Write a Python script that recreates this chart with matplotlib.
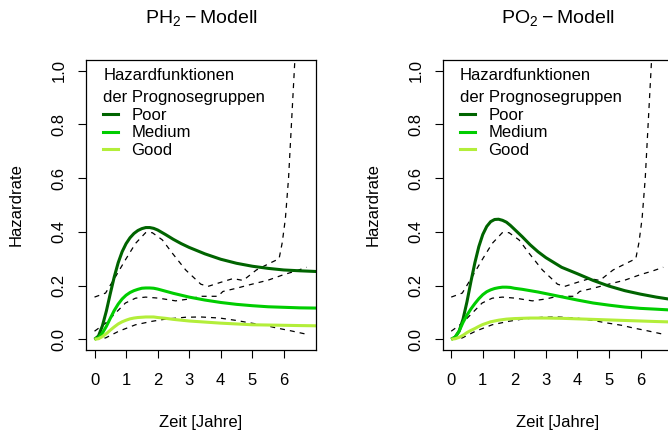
import matplotlib
matplotlib.use("Agg")
import matplotlib.pyplot as plt
from matplotlib.lines import Line2D

plt.rcParams['font.family'] = ['Liberation Sans', 'DejaVu Sans']
plt.rcParams['mathtext.fontset'] = 'custom'
plt.rcParams['mathtext.rm'] = 'Liberation Sans'

# model hazard curves
t_grid = [0, 0.125, 0.25, 0.375, 0.5, 0.625, 0.75, 0.875, 1.0, 1.125, 1.25, 1.375, 1.5,
          1.625, 1.75, 1.875, 2.0, 2.25, 2.5, 2.75, 3.0, 3.5, 4.0, 4.5, 5.0, 5.5, 6.0,
          6.5, 7.1]

ph_poor = [0, 0.012, 0.05, 0.105, 0.17, 0.232, 0.285, 0.326, 0.356, 0.378, 0.394, 0.405,
           0.412, 0.416, 0.416, 0.413, 0.407, 0.39, 0.372, 0.356, 0.342, 0.318, 0.298,
           0.283, 0.272, 0.264, 0.258, 0.255, 0.252]
ph_medium = [0, 0.006, 0.023, 0.048, 0.078, 0.107, 0.131, 0.15, 0.164, 0.174, 0.181,
             0.186, 0.19, 0.191, 0.191, 0.19, 0.187, 0.179, 0.171, 0.164, 0.157, 0.146,
             0.137, 0.13, 0.125, 0.121, 0.119, 0.117, 0.116]
ph_good = [0, 0.002, 0.01, 0.021, 0.034, 0.046, 0.057, 0.065, 0.071, 0.076, 0.079, 0.081,
           0.082, 0.083, 0.083, 0.083, 0.081, 0.078, 0.074, 0.071, 0.068, 0.064, 0.06,
           0.057, 0.054, 0.053, 0.052, 0.051, 0.05]

po_poor = [0, 0.008, 0.03, 0.075, 0.14, 0.215, 0.285, 0.345, 0.39, 0.42, 0.438, 0.446,
           0.447, 0.443, 0.436, 0.424, 0.41, 0.382, 0.352, 0.326, 0.304, 0.268, 0.244,
           0.219, 0.198, 0.181, 0.168, 0.157, 0.146]
po_medium = [0, 0.008, 0.03, 0.063, 0.09, 0.113, 0.133, 0.151, 0.166, 0.177, 0.184, 0.189,
             0.192, 0.194, 0.194, 0.193, 0.19, 0.186, 0.181, 0.176, 0.17, 0.158, 0.146,
             0.135, 0.127, 0.12, 0.115, 0.112, 0.108]
po_good = [0, 0.002, 0.007, 0.015, 0.025, 0.033, 0.04, 0.048, 0.055, 0.06, 0.065, 0.068,
           0.071, 0.073, 0.075, 0.076, 0.077, 0.078, 0.079, 0.079, 0.079, 0.078, 0.076,
           0.074, 0.072, 0.07, 0.068, 0.066, 0.064]

# empirical hazards (dashed), same in both panels
emp_poor_t = [0, 0.35, 0.67, 0.98, 1.30, 1.62, 1.83, 2.15, 2.47, 2.89, 3.37, 3.6, 4.0,
              4.39, 4.71, 5.13, 5.5, 5.85, 5.95, 6.05, 6.15, 6.25, 6.4]
emp_poor = [0.157, 0.172, 0.234, 0.296, 0.357, 0.397, 0.397, 0.37, 0.32, 0.258, 0.205,
            0.197, 0.212, 0.226, 0.219, 0.258, 0.28, 0.30, 0.36, 0.45, 0.60, 0.82, 1.15]
emp_medium_t = [0, 0.35, 0.67, 0.98, 1.30, 1.62, 2.04, 2.57, 3.0, 3.37, 3.91, 4.07, 4.5,
                4.92, 5.5, 5.98, 6.4, 6.72]
emp_medium = [0.03, 0.06, 0.098, 0.135, 0.153, 0.157, 0.153, 0.143, 0.15, 0.16, 0.16,
              0.178, 0.19, 0.203, 0.22, 0.24, 0.255, 0.268]
emp_good_t = [0, 0.35, 0.77, 1.30, 1.83, 2.25, 2.89, 3.37, 3.97, 4.5, 4.92, 5.4, 5.77,
              6.2, 6.67]
emp_good = [0, 0.005, 0.03, 0.054, 0.067, 0.075, 0.082, 0.083, 0.079, 0.07, 0.061,
            0.052, 0.042, 0.032, 0.02]

groups = ['Poor', 'Medium', 'Good']
colors = ['#006400', '#00CD00', '#B3EE3A']
titles = [r'$\mathregular{PH_2-Modell}$', r'$\mathregular{PO_2-Modell}$']
x_ticks = [0, 1, 2, 3, 4, 5, 6]
y_ticks = [0.0, 0.2, 0.4, 0.6, 0.8, 1.0]

W, H = 668, 432
fig = plt.figure(figsize=(W / 100, H / 100), dpi=100)

panels = [(86, [ph_poor, ph_medium, ph_good]), (442.7, [po_poor, po_medium, po_good])]

for i, (left_px, curves) in enumerate(panels):
    ax = fig.add_axes([left_px / W, 1 - 350 / H, 230 / W, 290 / H])

    for t, h in [(emp_poor_t, emp_poor), (emp_medium_t, emp_medium), (emp_good_t, emp_good)]:
        ax.plot(t, h, color='black', lw=0.9, linestyle=(0, (4, 4)))
    for h, c in zip(curves, colors):
        ax.plot(t_grid, h, color=c, lw=2.2, solid_capstyle='butt', solid_joinstyle='round')

    ax.set_xlim(-0.27, 7.02)
    ax.set_ylim(-0.04, 1.04)
    ax.set_xticks(x_ticks)
    ax.set_xticklabels([str(v) for v in x_ticks])
    ax.set_yticks(y_ticks)
    ax.set_yticklabels(['%.1f' % v for v in y_ticks], rotation=90, va='center')
    ax.tick_params(direction='out', length=5.8, width=0.8, labelsize=12)
    ax.tick_params(axis='x', pad=10.5)
    ax.tick_params(axis='y', pad=8)
    for s in ax.spines.values():
        s.set_linewidth(0.9)

    handles = [Line2D([], [], color=c, lw=2.2) for c in colors]
    leg = ax.legend(handles, groups, title='Hazardfunktionen\nder Prognosegruppen',
                    loc='upper left', bbox_to_anchor=(0.075, 0.971), frameon=False,
                    alignment='left', fontsize=12, title_fontsize=12,
                    handlelength=0.9, handletextpad=0.8, labelspacing=0.16,
                    borderpad=0, borderaxespad=0)
    leg.get_title().set_linespacing(1.55)

    cx = (left_px + 115) / W
    fig.text(cx, 1 - 22.7 / H, titles[i], ha='center', va='baseline', fontsize=14)
    fig.text(cx, 1 - 427.5 / H, 'Zeit [Jahre]', ha='center', va='baseline', fontsize=12)
    fig.text((left_px - 70) / W, 1 - 205 / H, 'Hazardrate', rotation=90,
             ha='center', va='center', fontsize=12)

fig.savefig('out.png', dpi=100)
